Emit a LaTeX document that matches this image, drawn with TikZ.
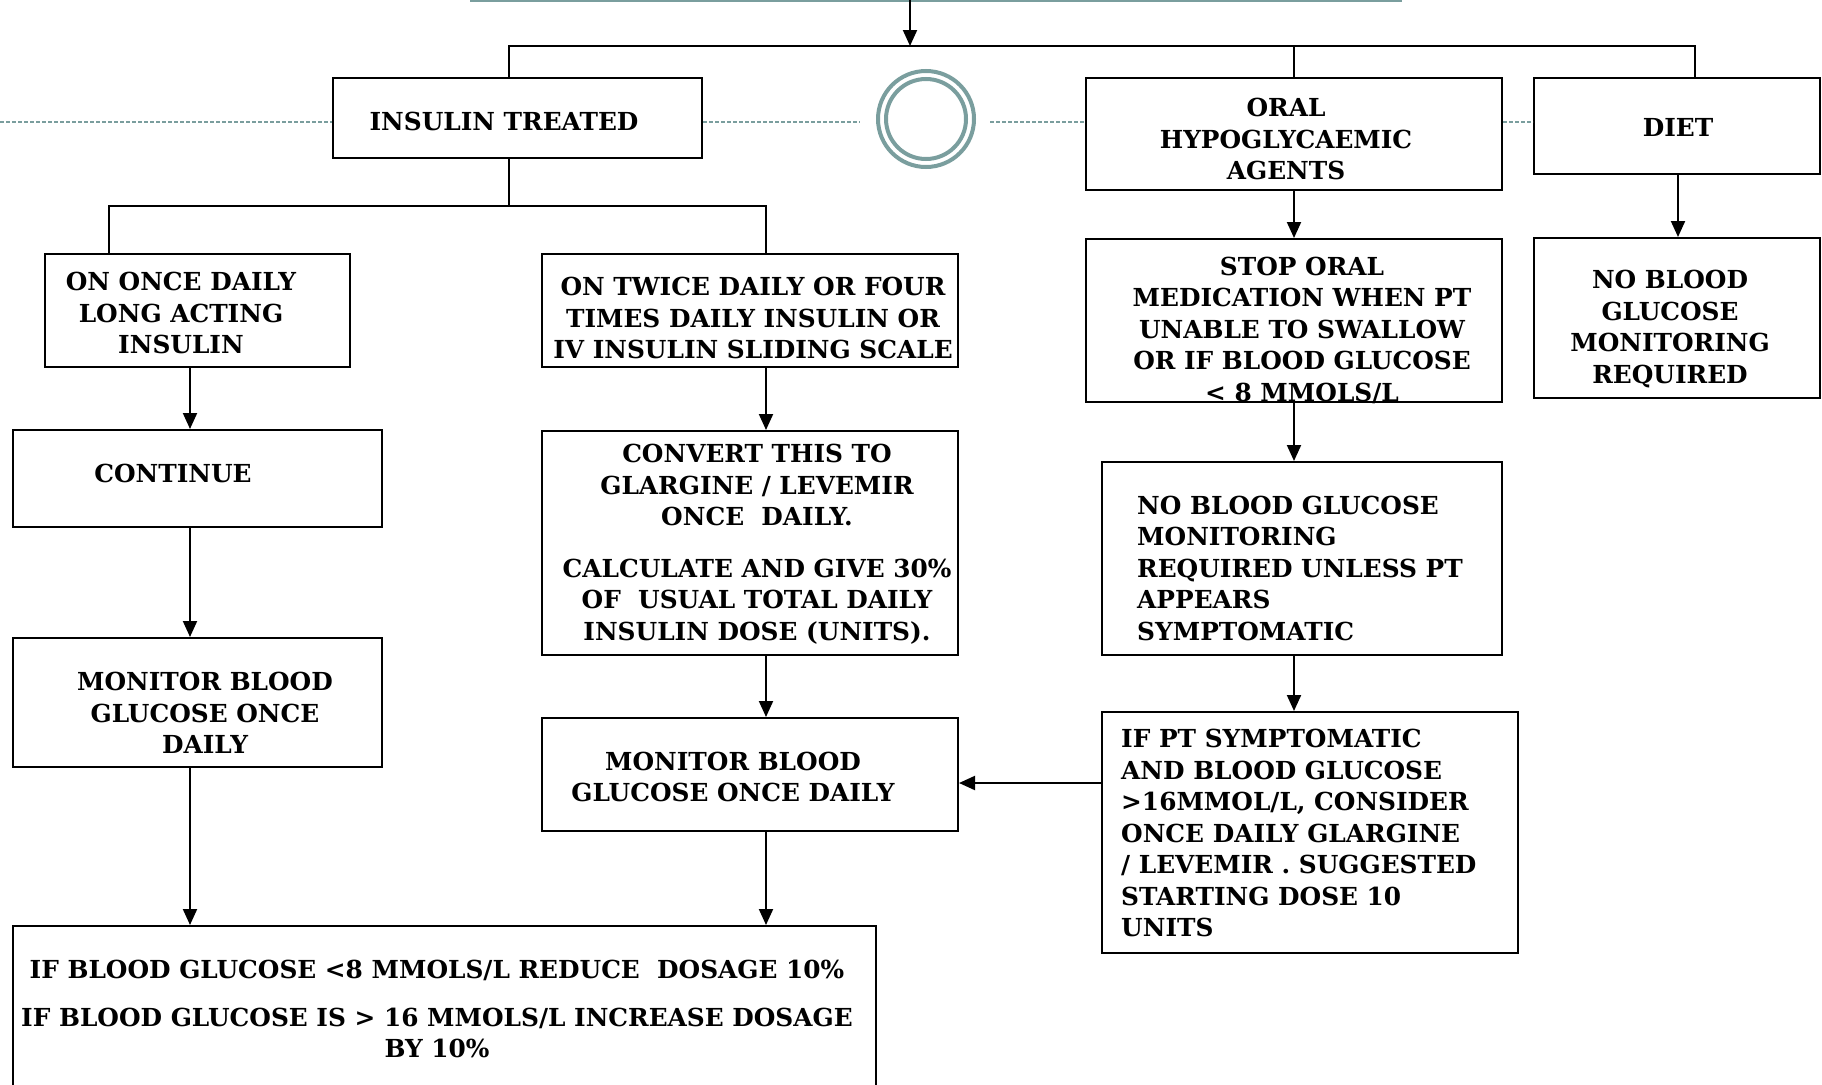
\documentclass[tikz,border=0pt]{standalone}
\usepackage{fontspec}
\setmainfont{DejaVu Serif}
\usetikzlibrary{arrows.meta,fit}
\definecolor{tealline}{RGB}{122,158,158}
\newcommand\boxfont{\fontsize{24.8}{31.5}\selectfont\bfseries}
\begin{document}
\begin{tikzpicture}[x=1pt,y=-1pt,
  box/.style={draw=black,line width=2pt,fill=white,inner sep=0pt},
  txt/.style={font=\boxfont,inner sep=0pt},
  arr/.style={line width=2pt,-{Triangle[length=16pt,width=14pt]}},
  conn/.style={line width=2.8pt},
  dl/.style={tealline,line width=1.6pt,dash pattern=on 4pt off 2pt}]
\useasboundingbox (0,0) rectangle (1822,1084);
% top teal line
\draw[tealline,line width=3pt] (470,0.5) -- (1402,0.5);
% coordinates
\coordinate (top) at (910,0);
\coordinate (busL) at (509,46);
\coordinate (busO) at (1294,46);
\coordinate (busR) at (1695,46);
\coordinate (b2L) at (109,206);
\coordinate (b2M) at (509,206);
\coordinate (b2R) at (766,206);
\coordinate (xL) at (190,0);
\coordinate (xM) at (766,0);
\coordinate (xO) at (1294,0);
\coordinate (xD) at (1678,0);
\coordinate (yA) at (0,783);
\coordinate (dl0) at (0,122);
\coordinate (dl1) at (860,122);
\coordinate (dl2) at (990,122);
% boxes
\node[box,fit={(333,78) (702,158)}] (ins) {};
\node[box,fit={(1086,78) (1502,190)}] (oral) {};
\node[box,fit={(1534,78) (1820,174)}] (diet) {};
\node[box,fit={(45,254) (350,367)}] (once) {};
\node[box,fit={(542,254) (958,367)}] (twice) {};
\node[box,fit={(13,430) (382,527)}] (cont) {};
\node[box,fit={(542,431) (958,655)}] (conv) {};
\node[box,fit={(13,638) (382,767)}] (monL) {};
\node[box,fit={(542,718) (958,831)}] (monM) {};
\node[box,fit={(13,926) (876,1095)}] (bot) {};
\node[box,fit={(1086,239) (1502,402)}] (stop) {};
\node[box,fit={(1102,462) (1502,655)}] (nobg) {};
\node[box,fit={(1102,712) (1518,953)}] (ifpt) {};
\node[box,fit={(1534,238) (1820,398)}] (nobgR) {};
% dashed teal line and ring
\draw[dl] (dl0) -- (dl0 -| ins.west);
\draw[dl] (dl1 -| ins.east) -- (dl1);
\draw[dl] (dl2) -- (dl2 -| oral.west);
\draw[dl] (dl2 -| oral.east) -- (dl2 -| diet.west);
\node[circle,draw=tealline,line width=4pt,minimum size=96pt,inner sep=0pt] (ring) at (926,119) {};
\node[circle,draw=tealline,line width=4pt,minimum size=80pt,inner sep=0pt] (ringin) at (926,119) {};
% texts
\node[txt] (t1) at (504,121) {INSULIN TREATED};
\node[txt,align=center] (t2) at (1286,139) {ORAL\\HYPOGLYCAEMIC\\AGENTS};
\node[txt] (t3) at (1678,127) {DIET};
\node[txt,align=center] (t4) at (181,313) {ON ONCE DAILY\\LONG ACTING\\INSULIN};
\node[txt,align=center] (t5) at (753,318) {ON TWICE DAILY OR FOUR\\TIMES DAILY INSULIN OR\\IV INSULIN SLIDING SCALE};
\node[txt] (t6) at (173,473) {CONTINUE};
\node[txt,align=center] (t7) at (757,544) {CONVERT THIS TO\\GLARGINE / LEVEMIR\\ONCE\ \ DAILY.\\[20pt]CALCULATE AND GIVE 30\%\\OF\ \ USUAL TOTAL DAILY\\INSULIN DOSE (UNITS).};
\node[txt,align=center] (t8) at (205,713) {MONITOR BLOOD\\GLUCOSE ONCE\\DAILY};
\node[txt,align=center] (t9) at (733,777) {MONITOR BLOOD\\GLUCOSE ONCE DAILY};
\node[txt,align=center] (t10) at (437,1009) {IF BLOOD GLUCOSE <8 MMOLS/L REDUCE\ \ DOSAGE 10\%\\[16pt]IF BLOOD GLUCOSE IS > 16 MMOLS/L INCREASE DOSAGE\\BY 10\%};
\node[txt,align=center] (t11) at (1302,330) {STOP ORAL\\MEDICATION WHEN PT\\UNABLE TO SWALLOW\\OR IF BLOOD GLUCOSE\\< 8 MMOLS/L};
\node[txt,align=left,anchor=west] (t12) at (1137,568) {NO BLOOD GLUCOSE\\MONITORING\\REQUIRED UNLESS PT\\APPEARS\\SYMPTOMATIC};
\node[txt,align=left,anchor=west] (t13) at (1121,833) {IF PT SYMPTOMATIC\\AND BLOOD GLUCOSE\\>16MMOL/L, CONSIDER\\ONCE DAILY GLARGINE\\/ LEVEMIR . SUGGESTED\\STARTING DOSE 10\\UNITS};
\node[txt,align=center] (t14) at (1670,329) {NO BLOOD\\GLUCOSE\\MONITORING\\REQUIRED};
% connectors
\draw[arr] (top) -- (top |- busL);
\draw[conn] (ins.north -| busL) |- (busR) -- (busR |- diet.north);
\draw[conn] (busO) -- (busO |- oral.north);
\draw[conn] (ins.south -| b2M) -- (b2M);
\draw[conn] (once.north -| b2L) |- (b2R) -- (b2R |- twice.north);
\draw[arr] (once.south -| xL) -- (cont.north -| xL);
\draw[arr] (cont.south -| xL) -- (monL.north -| xL);
\draw[arr] (monL.south -| xL) -- (bot.north -| xL);
\draw[arr] (twice.south -| xM) -- (conv.north -| xM);
\draw[arr] (conv.south -| xM) -- (monM.north -| xM);
\draw[arr] (monM.south -| xM) -- (bot.north -| xM);
\draw[arr] (oral.south -| xO) -- (stop.north -| xO);
\draw[arr] (stop.south -| xO) -- (nobg.north -| xO);
\draw[arr] (nobg.south -| xO) -- (ifpt.north -| xO);
\draw[arr] (diet.south -| xD) -- (nobgR.north -| xD);
\draw[arr] (ifpt.west |- yA) -- (monM.east |- yA);
\end{tikzpicture}
\end{document}
